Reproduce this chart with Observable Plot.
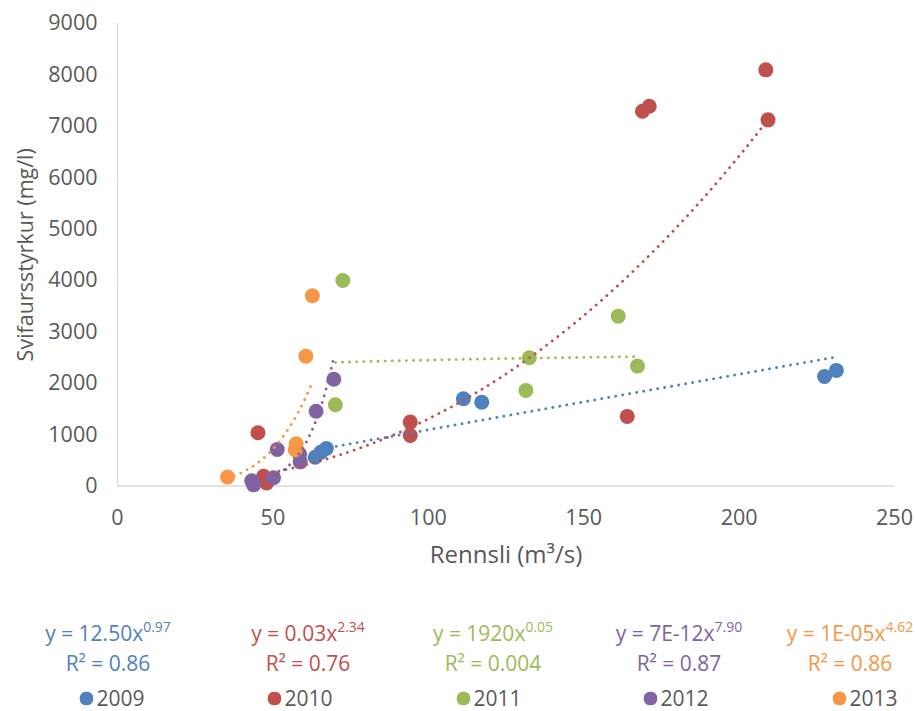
<!DOCTYPE html>
<html><head><meta charset="utf-8">
<script src="https://cdn.jsdelivr.net/npm/d3@7"></script>
<script src="https://cdn.jsdelivr.net/npm/@observablehq/plot@0.6"></script>
<style>
body{margin:0;background:#fff;font-family:"Open Sans",sans-serif;}
#wrap{width:915px;height:711px;position:relative;overflow:hidden;background:#fff;}
#legend{position:relative;width:915px;height:121px;}
.item{position:absolute;transform:translate(-50%,-50%);white-space:nowrap;font-size:21px;line-height:1;}
.item sup{font-size:14px;vertical-align:baseline;position:relative;top:-9px;}
.key{display:flex;align-items:center;color:#595959;}
.key svg{margin-right:3px;}
</style></head><body><div id="wrap"></div>
<script>
const years = ["2009", "2010", "2011", "2012", "2013"];
const colors = ["#4F81BD", "#C0504D", "#9BBB59", "#8064A2", "#F79646"];
const flow2009 = [63.6, 65.5, 67.2, 111.3, 117.2, 227.5, 231.3];
const conc2009 = [560, 660, 730, 1698, 1632, 2132, 2249];
const flow2010 = [45.2, 47.0, 48.0, 94.2, 94.2, 164.0, 168.9, 171.1, 208.6, 209.3];
const conc2010 = [1036, 190, 60, 1243, 984, 1354, 7293, 7390, 8098, 7125];
const flow2011 = [70.1, 72.5, 131.4, 132.5, 161.1, 167.3];
const conc2011 = [1581, 3999, 1860, 2495, 3305, 2333];
const flow2012 = [43.2, 43.8, 50.2, 51.4, 58.6, 58.8, 63.9, 69.6];
const conc2012 = [100, 22, 160, 709, 620, 470, 1454, 2077];
const flow2013 = [35.4, 57.2, 57.5, 60.6, 62.7];
const conc2013 = [174, 706, 822, 2527, 3701];
const equations = ["y = 12.50x<sup>0.97</sup>", "y = 0.03x<sup>2.34</sup>", "y = 1920x<sup>0.05</sup>", "y = 7E-12x<sup>7.90</sup>", "y = 1E-05x<sup>4.62</sup>"];
const rSquared = ["R² = 0.86", "R² = 0.76", "R² = 0.004", "R² = 0.87", "R² = 0.86"];
const xTicks = [0, 50, 100, 150, 200, 250];
const yTicks = [0, 1000, 2000, 3000, 4000, 5000, 6000, 7000, 8000, 9000];
const xLabel = "Rennsli (m³/s)";
const yLabel = "Svifaursstyrkur (mg/l)";

const flows = [flow2009, flow2010, flow2011, flow2012, flow2013];
const concs = [conc2009, conc2010, conc2011, conc2012, conc2013];

const points = [];
years.forEach((yr, k) => flows[k].forEach((q, i) => points.push({year: yr, q, c: concs[k][i]})));

// Excel-style power trendline: least squares in log-log space over the data range
function powerFit(xs, ys) {
  const lx = xs.map(Math.log), ly = ys.map(Math.log);
  const mx = d3.mean(lx), my = d3.mean(ly);
  const b = d3.sum(lx, (v, i) => (v - mx) * (ly[i] - my)) / d3.sum(lx, v => (v - mx) ** 2);
  return {a: Math.exp(my - b * mx), b};
}
const trend = [];
years.forEach((yr, k) => {
  const {a, b} = powerFit(flows[k], concs[k]);
  const [x0, x1] = d3.extent(flows[k]);
  for (let i = 0; i <= 120; i++) {
    const q = x0 + (x1 - x0) * i / 120;
    trend.push({year: yr, q, c: a * Math.pow(q, b)});
  }
});

const chart = Plot.plot({
  width: 915, height: 590,
  marginLeft: 117, marginRight: 21, marginTop: 23, marginBottom: 104.5,
  x: {domain: [0, 250]},
  y: {domain: [0, 9000]},
  color: {domain: years, range: colors},
  style: {fontFamily: "Open Sans", fontSize: "21.5px", color: "#595959", background: "white"},
  marks: [
    Plot.ruleX([0], {stroke: "#d9d9d9", strokeWidth: 1.3}),
    Plot.ruleY([0], {stroke: "#d9d9d9", strokeWidth: 1.3}),
    Plot.axisX({ticks: xTicks, tickSize: 0, tickPadding: 24, label: null, fill: "#595959", tickFormat: d => String(d)}),
    Plot.axisY({ticks: yTicks, tickSize: 0, tickPadding: 20, label: null, fill: "#595959", tickFormat: d => String(d)}),
    Plot.dot(points, {x: "q", y: "c", r: 7.5, fill: "year", stroke: "none"}),
    Plot.line(trend, {x: "q", y: "c", z: "year", stroke: "year", strokeWidth: 2.8, strokeDasharray: "0.1 7", strokeLinecap: "round"}),
    Plot.text([yLabel], {text: d => d, frameAnchor: "left", textAnchor: "middle", lineAnchor: "middle", dx: -91, rotate: -90, fill: "#595959", fontSize: 21.5}),
    Plot.text([xLabel], {text: d => d, frameAnchor: "bottom", textAnchor: "middle", lineAnchor: "middle", dy: 69.5, dx: 0, fill: "#595959", fontSize: 24})
  ]
});
const wrap = document.getElementById("wrap");
wrap.appendChild(chart);

const legend = document.createElement("div");
legend.id = "legend";
const eqX = [108, 308, 493, 679, 850];
const keyX = [112, 300, 489, 676, 865];
years.forEach((yr, k) => {
  const e = document.createElement("div");
  e.className = "item"; e.style.left = eqX[k] + "px"; e.style.top = "43px"; e.style.color = colors[k];
  e.innerHTML = equations[k];
  legend.appendChild(e);
  const r = document.createElement("div");
  r.className = "item"; r.style.left = eqX[k] + "px"; r.style.top = "73px"; r.style.color = colors[k];
  r.textContent = rSquared[k];
  legend.appendChild(r);
  const key = document.createElement("div");
  key.className = "item key"; key.style.left = keyX[k] + "px"; key.style.top = "108px";
  key.innerHTML = `<svg width="14" height="14"><circle cx="7" cy="7" r="7" fill="${colors[k]}"/></svg><span>${yr}</span>`;
  legend.appendChild(key);
});
wrap.appendChild(legend);
</script></body></html>
